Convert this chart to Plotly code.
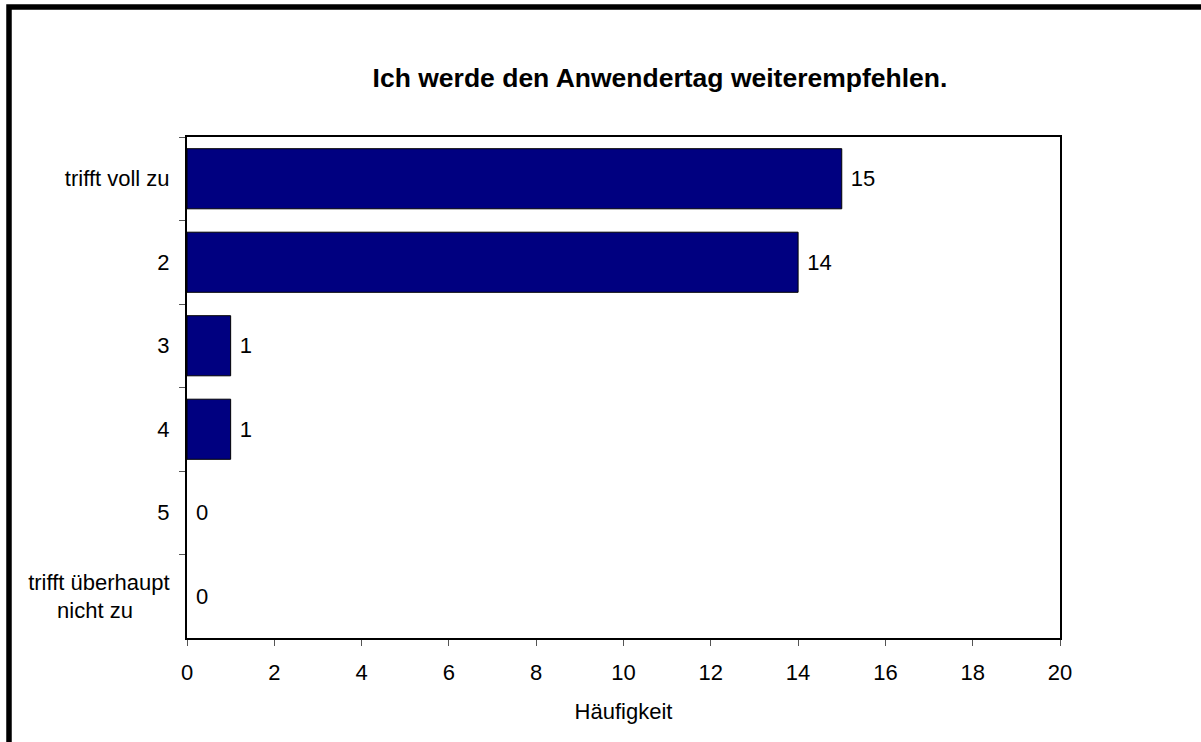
import plotly.graph_objects as go

categories = ["trifft voll zu", "2", "3", "4", "5",
              "trifft überhaupt<br>nicht zu\u00a0\u00a0\u00a0\u00a0\u00a0\u00a0"]
counts = [15, 14, 1, 1, 0, 0]
x_ticks = [0, 2, 4, 6, 8, 10, 12, 14, 16, 18, 20]

W, H = 1201, 742
# target plot area in page pixels: x 187..1060, y 137..638
L, T = 187, 137
R, B = W - 1060, H - 638
pw, ph = W - L - R, H - T - B

def px_x(px):
    return (px - L) / pw

def px_y(py):
    return 1 - (py - T) / ph

FONT = "Liberation Sans, Arial, sans-serif"

fig = go.Figure(go.Bar(
    x=counts, y=categories, orientation="h",
    marker=dict(color="#000080",
                line=dict(color="black", width=[1 if v > 0 else 0 for v in counts])),
    text=["\u00a0" + str(v) for v in counts], textposition="outside",
    textfont=dict(size=22, color="black", family=FONT),
    cliponaxis=False, width=0.72,
))

fig.update_layout(
    width=W, height=H,
    margin=dict(l=L, r=R, t=T, b=B),
    paper_bgcolor="white", plot_bgcolor="white",
    font=dict(family=FONT, size=22, color="black"),
    showlegend=False,
    title=dict(text="<b>Ich werde den Anwendertag weiterempfehlen.</b>",
               x=660 / W, xanchor="center",
               y=1 - 78 / H, yanchor="middle",
               font=dict(size=26.5, color="black", family=FONT)),
    xaxis=dict(range=[0, 20], tickvals=x_ticks, ticks="outside", ticklen=6,
               tickcolor="#555", showgrid=False, zeroline=False,
               showline=True, linecolor="black", linewidth=2, mirror=True,
               tickfont=dict(size=22), ticklabelstandoff=8,
               title=dict(text="Häufigkeit", font=dict(size=22), standoff=19)),
    yaxis=dict(autorange="reversed", ticks="outside", tickson="boundaries",
               ticklen=6, tickcolor="#555", showgrid=False,
               showline=True, linecolor="black", linewidth=2, mirror=True,
               tickfont=dict(size=22), ticklabelstandoff=11),
    bargap=0.28,
)

# outer black frame (extends beyond right/bottom edges)
fig.add_shape(type="rect", xref="paper", yref="paper",
              x0=px_x(9), x1=px_x(1260), y0=px_y(7), y1=px_y(800),
              line=dict(color="black", width=5.5), fillcolor="rgba(0,0,0,0)",
              layer="above")

fig.write_html(
    "out.html",
    config={"displayModeBar": False},
    post_script="document.body.style.margin='0';document.body.style.overflow='hidden';",
)
